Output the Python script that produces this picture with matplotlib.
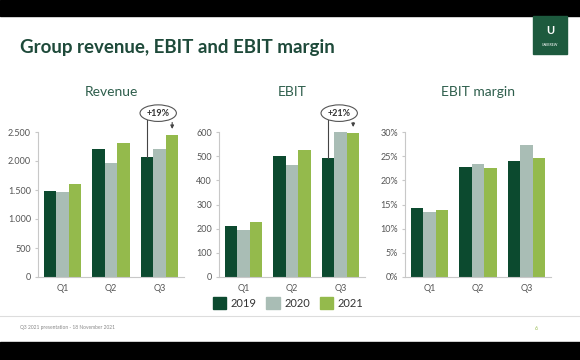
import matplotlib
matplotlib.use("Agg")
import matplotlib.pyplot as plt
from matplotlib.patches import Rectangle, Patch
from matplotlib.ticker import FuncFormatter
import numpy as np

plt.rcParams['font.family'] = ['Lato', 'DejaVu Sans']

quarters = ["Q1", "Q2", "Q3"]
years = ["2019", "2020", "2021"]
colors = ["#0c4a2f", "#a9bdb5", "#94ba4c"]

# values per year, Q1..Q3
revenue = {"2019": [1477, 2201, 2063], "2020": [1470, 1971, 2213], "2021": [1603, 2316, 2454]}
ebit = {"2019": [210, 501, 492], "2020": [196, 465, 600], "2021": [228, 524, 597]}
margin = {"2019": [14.3, 22.8, 24.1], "2020": [13.4, 23.4, 27.4], "2021": [13.9, 22.6, 24.6]}

W, H = 580, 360
fig = plt.figure(figsize=(W / 100, H / 100), dpi=100)
fig.patch.set_facecolor("white")

def px(x, y, w, h):
    # pixel box (top-left origin) -> figure fraction
    return [x / W, 1 - (y + h) / H, w / W, h / H]

# black letterbox bars
fig.patches.append(Rectangle((0, 1 - 16 / H), 1, 16 / H, transform=fig.transFigure, color="black", zorder=0))
fig.patches.append(Rectangle((0, 0), 1, 18 / H, transform=fig.transFigure, color="black", zorder=0))

# logo
fig.patches.append(Rectangle((533 / W, 1 - 54 / H), 34 / W, 38 / H, transform=fig.transFigure, color="#1d5a3e", zorder=1))
fig.text(550 / W, 1 - 30 / H, "U", color="white", fontsize=8, weight="bold", ha="center", va="center")
fig.text(550 / W, 1 - 45 / H, "UNIBREW", color="white", fontsize=2.5, ha="center", va="center")

fig.text(20 / W, 1 - 48 / H, "Group revenue, EBIT and EBIT margin", fontsize=13.5, weight="bold",
         color="#1e4a3a", ha="left", va="center")

# footer
fig.add_artist(plt.Line2D([0, 1], [1 - 316 / H, 1 - 316 / H], color="#dddddd", lw=0.8))
fig.text(20 / W, 1 - 328 / H, "Q3 2021 presentation - 18 November 2021", fontsize=3.5, color="#888888", va="center")
fig.text(535 / W, 1 - 328 / H, "6", fontsize=4, color="#94ba4c", va="center")

panels = [
    ("Revenue", revenue, 2500, 500, 38, "+19%", lambda v, p: f"{v:,.0f}".replace(",", ".")),
    ("EBIT", ebit, 600, 100, 219, "+21%", lambda v, p: f"{v:.0f}"),
    ("EBIT margin", margin, 30, 5, 405, None, lambda v, p: f"{v:.0f}%"),
]

x = np.arange(len(quarters))
bw = 0.257

for title, data, ymax, step, left, growth, fmt in panels:
    ax = fig.add_axes(px(left, 132, 146, 145))
    for i, yr in enumerate(years):
        ax.bar(x + (i - 1) * bw, data[yr], bw, color=colors[i], zorder=2)
    ax.set_xlim(-0.5, 2.5)
    ax.set_ylim(0, ymax)
    ax.set_yticks(np.arange(0, ymax + step / 2, step))
    ax.yaxis.set_major_formatter(FuncFormatter(fmt))
    ax.set_xticks(x)
    ax.set_xticklabels(quarters)
    for s in ["top", "right"]:
        ax.spines[s].set_visible(False)
    for s in ["left", "bottom"]:
        ax.spines[s].set_color("#c8c8c8")
        ax.spines[s].set_linewidth(0.8)
    ax.tick_params(axis="y", length=2, color="#c8c8c8", labelsize=6.5, labelcolor="#555555", pad=3)
    ax.tick_params(axis="x", length=0, labelsize=6.5, labelcolor="#555555", pad=5)
    ax.set_title(title, fontsize=10, color="#2e5e4c", pad=26)

    if growth:
        v19 = data["2019"][2]
        v21 = data["2021"][2]
        xl, xr = 2 - bw, 2 + bw
        ytop = ymax * 1.085
        ax.plot([xl, xl], [v19, ytop], color="#444444", lw=0.8, clip_on=False, zorder=3)
        ax.annotate("", xy=(xr, v21 + ymax * 0.02), xytext=(xr, ytop),
                    arrowprops=dict(arrowstyle="-|>", color="#444444", lw=0.8, mutation_scale=5),
                    annotation_clip=False, zorder=3)
        ax.text(2 - 0.03, ymax * 1.13, growth, fontsize=6.5, weight="bold", color="#333333",
                ha="center", va="center", zorder=4,
                bbox=dict(boxstyle="ellipse,pad=0.15", fc="white", ec="#555555", lw=0.8))

handles = [Patch(color=c) for c in colors]
fig.legend(handles, years, loc="center", bbox_to_anchor=(288 / W, 1 - 303 / H), ncol=3, frameon=False,
           fontsize=8, handlelength=1.2, handleheight=1.2, handletextpad=0.4, columnspacing=0.9,
           labelcolor="#333333")

fig.savefig("out.png", dpi=100)
